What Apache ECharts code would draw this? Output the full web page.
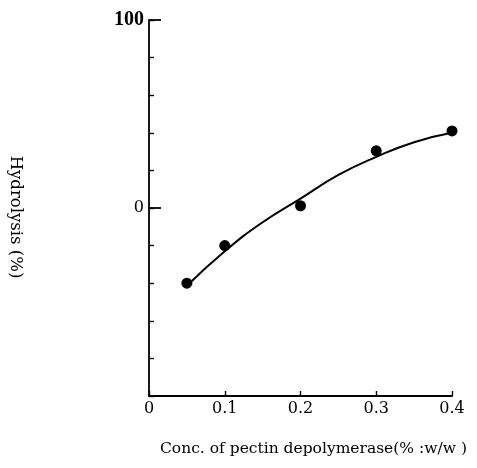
<!DOCTYPE html>
<html>
<head>
<meta charset="utf-8">
<script src="https://cdn.jsdelivr.net/npm/echarts@6/dist/echarts.min.js"></script>
<style>html,body{margin:0;padding:0;background:#fff;}#c{width:477px;height:468px;}</style>
</head>
<body>
<div id="c"></div>
<script>
// measured points
const pointX = [0.05, 0.1, 0.2, 0.3, 0.4];
const pointY = [30, 40, 50.6, 65.2, 70.5];
// fitted curve
const curveX = [0.05, 0.1, 0.15, 0.2, 0.25, 0.3, 0.35, 0.4];
const curveY = [29.3, 38.5, 46.2, 52.5, 58.8, 63.6, 67.5, 70];
const xTicks = ['0', '0.1', '0.2', '0.3', '0.4'];
const yTickLabels = {100: '{a|100}', 50: '0'};

const serif = '"DejaVu Serif", "Liberation Serif", serif';
const chart = echarts.init(document.getElementById('c'));
chart.setOption({
  animation: false,
  backgroundColor: '#fff',
  grid: {left: 149, right: 25, top: 20, bottom: 72},
  xAxis: {
    type: 'value', min: 0, max: 0.4, interval: 0.1,
    axisLine: {lineStyle: {color: '#000', width: 1.8}},
    axisTick: {inside: true, length: 5, lineStyle: {color: '#000', width: 1.4}},
    splitLine: {show: false},
    axisLabel: {
      color: '#000', fontFamily: serif, fontSize: 16, margin: 5,
      formatter: v => xTicks[Math.round(v * 10)] || ''
    }
  },
  yAxis: [{
    type: 'value', min: 0, max: 100, interval: 10,
    axisLine: {show: true, lineStyle: {color: '#000', width: 1.8}},
    axisTick: {inside: true, length: 5, lineStyle: {color: '#000', width: 1.4}},
    splitLine: {show: false},
    axisLabel: {
      color: '#000', fontFamily: serif, fontSize: 16, margin: 5,
      formatter: v => yTickLabels[Math.round(v)] || '',
      rich: {a: {fontFamily: '"Liberation Serif", serif', fontSize: 20, fontWeight: 'bold', color: '#000'}}
    }
  }, {
    type: 'value', min: 0, max: 100, interval: 50, position: 'left',
    axisLine: {show: false},
    axisTick: {inside: true, length: 12, lineStyle: {color: '#000', width: 1.8}},
    axisLabel: {show: false},
    splitLine: {show: false}
  }],
  graphic: [{
    type: 'text', left: 160, top: 441,
    style: {text: 'Conc. of pectin depolymerase(% :w/w )', fill: '#000', font: '15.5px ' + serif}
  }, {
    type: 'text', x: 15, y: 217, rotation: -Math.PI / 2,
    style: {text: 'Hydrolysis (%)', fill: '#000', font: '16.5px ' + serif, align: 'center', verticalAlign: 'middle'}
  }],
  series: [{
    type: 'line', smooth: true, showSymbol: false,
    lineStyle: {color: '#000', width: 2},
    data: curveX.map((x, i) => [x, curveY[i]])
  }, {
    type: 'scatter', symbolSize: 11,
    itemStyle: {color: '#000', opacity: 1},
    data: pointX.map((x, i) => [x, pointY[i]])
  }]
});
</script>
</body>
</html>
